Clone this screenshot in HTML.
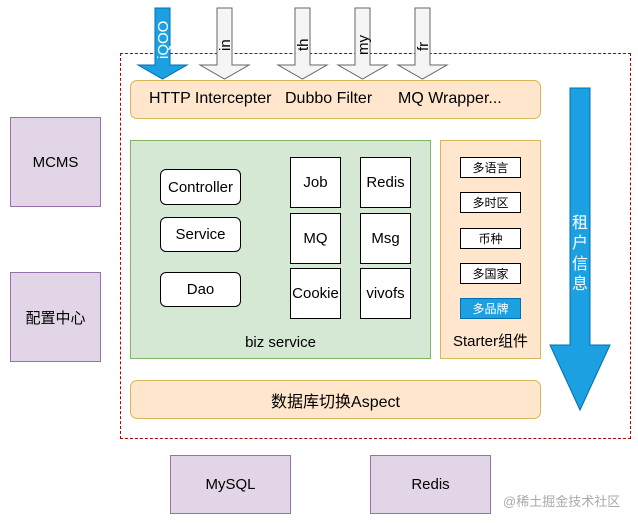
<!DOCTYPE html>
<html><head><meta charset="utf-8"><style>
body{margin:0;width:638px;height:523px;background:#fff;position:relative;overflow:hidden;font-family:"Liberation Sans","Noto Sans CJK SC",sans-serif;color:#000}
.a{position:absolute;box-sizing:border-box;display:flex;align-items:center;justify-content:center;text-align:center}
.or{background:#ffe6cc;border:1px solid #d6b656;border-radius:7px;font-size:15px}
.pu{background:#e1d5e7;border:1px solid #9673a6;font-size:15px}
.wr{background:#fff;border:1px solid #000;border-radius:6px;font-size:15px}
.sq{background:#fff;border:1px solid #000;font-size:15px}
.sm{background:#fff;border:1px solid #000;font-size:12px}
.t{position:absolute;font-size:16px;top:90px;white-space:nowrap}
</style></head><body>
<div class="a" style="left:120px;top:53px;width:511px;height:386px;border:1px dashed #b20000"></div>
<div class="a pu" style="left:10px;top:117px;width:91px;height:90px">MCMS</div>
<div class="a pu" style="left:10px;top:272px;width:91px;height:90px">配置中心</div>
<div class="a pu" style="left:170px;top:455px;width:121px;height:59px">MySQL</div>
<div class="a pu" style="left:370px;top:455px;width:121px;height:59px">Redis</div>
<div class="a or" style="left:130px;top:80px;width:411px;height:39px"></div>
<span class="t" style="left:149px">HTTP Intercepter</span>
<span class="t" style="left:285px">Dubbo Filter</span>
<span class="t" style="left:398px">MQ Wrapper...</span>
<div class="a or" style="left:130px;top:380px;width:411px;height:39px;font-size:16px">数据库切换Aspect</div>
<div class="a" style="left:130px;top:140px;width:301px;height:219px;background:#d5e8d4;border:1px solid #82b366;align-items:flex-end;padding-bottom:7px;font-size:15px">biz service</div>
<div class="a wr" style="left:160px;top:169px;width:81px;height:36px">Controller</div>
<div class="a wr" style="left:160px;top:217px;width:81px;height:35px">Service</div>
<div class="a wr" style="left:160px;top:272px;width:81px;height:35px">Dao</div>
<div class="a sq" style="left:290px;top:157px;width:51px;height:51px">Job</div>
<div class="a sq" style="left:360px;top:157px;width:51px;height:51px">Redis</div>
<div class="a sq" style="left:290px;top:213px;width:51px;height:51px">MQ</div>
<div class="a sq" style="left:360px;top:213px;width:51px;height:51px">Msg</div>
<div class="a sq" style="left:290px;top:268px;width:51px;height:51px">Cookie</div>
<div class="a sq" style="left:360px;top:268px;width:51px;height:51px">vivofs</div>
<div class="a" style="left:440px;top:140px;width:101px;height:219px;background:#ffe6cc;border:1px solid #d6b656;align-items:flex-end;padding-bottom:7px;font-size:15px">Starter组件</div>
<div class="a sm" style="left:460px;top:157px;width:61px;height:21px">多语言</div>
<div class="a sm" style="left:460px;top:192px;width:61px;height:21px">多时区</div>
<div class="a sm" style="left:460px;top:228px;width:61px;height:21px">币种</div>
<div class="a sm" style="left:460px;top:263px;width:61px;height:21px">多国家</div>
<div class="a sm" style="left:460px;top:298px;width:61px;height:21px;background:#1ba1e2;border-color:#006eaf;color:#fff">多品牌</div>
<svg width="638" height="523" style="position:absolute;left:0;top:0">
<polygon points="155,8 170,8 170,65 187,65 162.5,79 138,65 155,65" fill="#1ba1e2" stroke="#006eaf"/>
<g fill="#f5f5f5" stroke="#666">
<polygon points="217,8 232,8 232,65 249,65 224.5,79 200,65 217,65"/>
<polygon points="295,8 310,8 310,65 327,65 302.5,79 278,65 295,65"/>
<polygon points="355,8 370,8 370,65 387,65 362.5,79 338,65 355,65"/>
<polygon points="415,8 430,8 430,65 447,65 422.5,79 398,65 415,65"/>
</g>
<polygon points="570,88 590,88 590,345 610,345 580,410 550,345 570,345" fill="#1ba1e2" stroke="#006eaf"/>
<g font-family="Liberation Sans" font-size="15">
<text transform="translate(168,59) rotate(-90)" fill="#fff">iQOO</text>
<text transform="translate(230,51) rotate(-90)" fill="#000">in</text>
<text transform="translate(308,51) rotate(-90)" fill="#000">th</text>
<text transform="translate(368,55) rotate(-90)" fill="#000">my</text>
<text transform="translate(428,51) rotate(-90)" fill="#000">fr</text>
</g>
<g font-family="Noto Sans CJK SC" font-size="16" fill="#fff" text-anchor="middle">
<text x="580" y="228">租</text><text x="580" y="248">户</text><text x="580" y="269">信</text><text x="580" y="289">息</text>
</g>
<text x="503" y="506" font-family="Liberation Sans, Noto Sans CJK SC" font-size="13" fill="#aaa">@稀土掘金技术社区</text>
</svg>
</body></html>
